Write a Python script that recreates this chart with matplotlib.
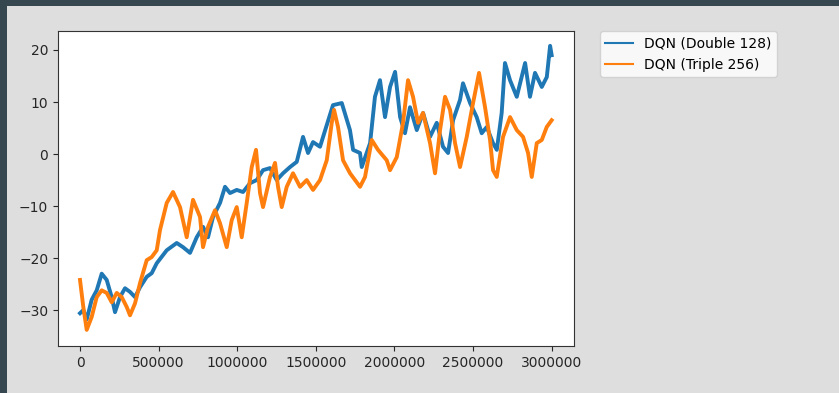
import matplotlib
matplotlib.use("Agg")
import matplotlib.pyplot as plt
from matplotlib.patches import Rectangle

# DQN (Double 128)
double_steps = [0, 21000, 42600, 74400, 106200, 138000, 169800, 201600, 222600, 254400,
                286200, 318000, 349900, 381700, 424300, 456100, 487900, 551500, 615100,
                655200, 699700, 742300, 782400, 814200, 846000, 890500, 922300, 954100,
                996800, 1036900, 1081400, 1124000, 1164100, 1208600, 1251300, 1291300,
                1335800, 1378500, 1418500, 1450300, 1482100, 1526600, 1558400,
                1609000, 1665000, 1717000, 1737000, 1781000, 1792000, 1845000, 1876000,
                1908000, 1940000, 1972000, 2004000, 2036000, 2067000, 2099000, 2142000,
                2182000, 2226000, 2269000, 2309000, 2341000, 2373000, 2417000, 2436000,
                2481000, 2523000, 2555000, 2587000, 2627000, 2651000, 2682000, 2703000,
                2735000, 2778000, 2831000, 2862000, 2894000, 2937000, 2969000, 2990000, 3000000]
double_vals = [-30.6, -30.0, -31.8, -28.0, -26.2, -23.0, -24.2, -27.5, -30.4, -27.5,
               -25.8, -26.5, -27.5, -25.6, -23.6, -22.9, -21.0, -18.5, -17.1,
               -17.9, -19.0, -16.0, -14.0, -16.0, -12.1, -9.4, -6.3, -7.5,
               -6.9, -7.3, -5.6, -5.0, -3.1, -2.7, -5.0, -3.7,
               -2.5, -1.5, 3.3, 0.2, 2.3, 1.4, 4.5,
               9.4, 9.8, 4.6, 0.8, 0.2, -2.5, 2.1, 11.0,
               14.2, 7.1, 12.9, 15.8, 7.1, 4.0, 9.0, 4.6,
               7.9, 3.3, 6.0, 1.4, 0.2, 6.5, 10.4, 13.6,
               9.8, 7.1, 4.0, 5.2, 2.1, 0.8, 7.9, 17.5,
               14.2, 11.0, 17.5, 11.0, 15.6, 12.9, 14.8, 20.8, 19.0]

# DQN (Triple 256)
triple_steps = [0, 21000, 42600, 74400, 106200, 138000, 169800, 201600, 233500, 265300,
                297100, 318000, 349900, 381700, 424300, 456100, 487900, 508900, 551500,
                591600, 636100, 678700, 718800, 763300, 782400, 814200, 858700, 890500,
                933200, 965000, 996800, 1028600, 1060400, 1092200, 1119500, 1145000,
                1164100, 1208600, 1240400, 1259500, 1283000, 1314800, 1354900, 1399400,
                1442000, 1482100, 1526600, 1569300, 1601100, 1615700, 1641100, 1673000,
                1717500, 1781100, 1812900, 1855500, 1895600, 1950900, 1972000, 2014600,
                2054600, 2086400, 2118200, 2150000, 2181800, 2226300, 2258200, 2290000,
                2321800, 2353600, 2385400, 2417200, 2459800, 2499900, 2538000, 2576200,
                2608000, 2627100, 2650600, 2690700, 2735300, 2777900, 2818000, 2849800,
                2873300, 2905100, 2937000, 2968600, 3000000]
triple_vals = [-24.2, -29.4, -33.8, -31.3, -27.5, -26.2, -26.7, -28.5, -26.7, -27.5,
               -29.4, -31.0, -28.7, -24.8, -20.4, -19.8, -18.5, -14.6, -9.4,
               -7.3, -10.2, -16.0, -8.8, -12.1, -17.9, -14.0, -10.8, -13.3,
               -17.9, -12.7, -10.2, -16.0, -9.4, -2.5, 0.8, -7.5,
               -10.2, -4.4, -1.7, -6.3, -10.2, -6.3, -3.7, -6.3,
               -5.0, -6.9, -5.0, -1.2, 6.0, 8.5, 5.2, -1.2,
               -3.7, -6.3, -4.4, 2.7, 0.8, -1.2, -3.1, -0.6,
               6.0, 14.2, 11.0, 6.0, 7.9, 2.1, -3.7, 4.6,
               11.0, 8.5, 2.1, -2.5, 3.3, 9.8, 15.6, 9.0,
               2.7, -3.1, -4.4, 3.3, 7.1, 4.6, 3.3, 0.2,
               -4.4, 2.1, 2.7, 5.2, 6.5]

labels = ["DQN (Double 128)", "DQN (Triple 256)"]

W, H = 839, 393
fig = plt.figure(figsize=(W / 100, H / 100), dpi=100, facecolor="#dedede")
fig.patches.append(Rectangle((0, 1 - 6 / H), 1, 6 / H, transform=fig.transFigure,
                             facecolor="#37474f", edgecolor="none", zorder=0))
fig.patches.append(Rectangle((0, 0), 7 / W, 1, transform=fig.transFigure,
                             facecolor="#37474f", edgecolor="none", zorder=0))

ax = fig.add_axes([58 / W, 1 - 346 / H, (574 - 58) / W, (346 - 31) / H])
ax.set_facecolor("white")
ax.plot(double_steps, double_vals, color="#1f77b4", lw=2.8, label=labels[0])
ax.plot(triple_steps, triple_vals, color="#ff7f0e", lw=2.8, label=labels[1])
ax.set_xlim(-140000, 3142000)
ax.set_ylim(-36.9, 23.65)
ax.set_xticks([0, 500000, 1000000, 1500000, 2000000, 2500000, 3000000])
ax.set_xticklabels(["0", "500000", "1000000", "1500000", "2000000", "2500000", "3000000"])
ax.set_yticks([-30, -20, -10, 0, 10, 20])
ax.tick_params(labelsize=10, colors="#262626")
for s in ax.spines.values():
    s.set_color("#333333")

leg = ax.legend(loc="upper left", bbox_to_anchor=(1.05, 1.0), fontsize=10,
                borderaxespad=0.)
for line in leg.get_lines():
    line.set_linewidth(1.5)

fig.savefig("out.png", dpi=100, facecolor=fig.get_facecolor())
